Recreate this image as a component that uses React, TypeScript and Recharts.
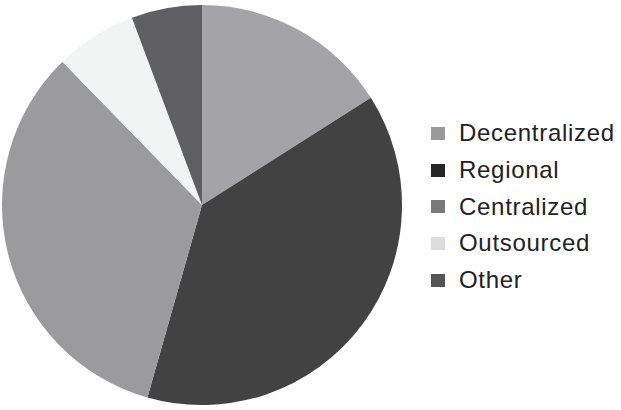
import { PieChart, Pie, Cell, Legend } from "recharts";

const categories = ["Decentralized", "Regional", "Centralized", "Outsourced", "Other"];
const shares = [16, 38.4, 33.3, 6.6, 5.7];
const sliceColors = ["#a4a4a6", "#424243", "#9b9b9d", "#f2f3f3", "#5f5f61"];
const legendColors = ["#9a9a9a", "#262626", "#7a7a7a", "#dcdcdc", "#555557"];

const data = categories.map((name, i) => ({ name, value: shares[i] }));

function LegendList() {
  return (
    <div style={{ fontFamily: "'Liberation Sans', Arial, sans-serif" }}>
      {categories.map((name, i) => (
        <div
          key={name}
          style={{
            display: "flex",
            alignItems: "center",
            height: 36.7,
            fontSize: 24,
            color: "#222",
            letterSpacing: 0.7,
          }}
        >
          <span
            style={{
              display: "inline-block",
              width: 14,
              height: 13,
              background: legendColors[i],
              marginRight: 14,
            }}
          />
          <span>{name}</span>
        </div>
      ))}
    </div>
  );
}

export default function App() {
  return (
    <div style={{ position: "absolute", left: 0, top: 0, background: "#fff" }}>
      <PieChart width={621} height={410} margin={{ top: 0, right: 0, bottom: 0, left: 0 }}>
        <Pie
          data={data}
          dataKey="value"
          nameKey="name"
          cx={202}
          cy={205}
          outerRadius={200}
          startAngle={90}
          endAngle={-270}
          stroke="none"
          isAnimationActive={false}
        >
          {data.map((d, i) => (
            <Cell key={d.name} fill={sliceColors[i]} />
          ))}
        </Pie>
        <Legend
          content={() => <LegendList />}
          wrapperStyle={{ left: 431, top: 115, width: 190 }}
        />
      </PieChart>
    </div>
  );
}
